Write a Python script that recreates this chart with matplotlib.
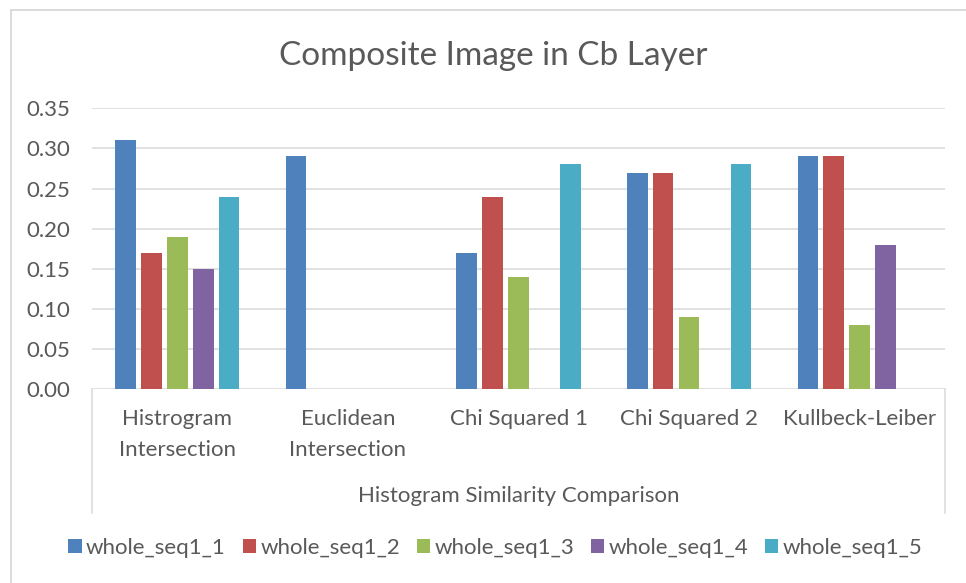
import matplotlib
matplotlib.use("Agg")
import matplotlib.pyplot as plt
import numpy as np
from matplotlib.lines import Line2D
from matplotlib.patches import Patch

plt.rcParams['font.family'] = ['Lato', 'DejaVu Sans']

categories = ["Histrogram\nIntersection", "Euclidean\nIntersection",
              "Chi Squared 1", "Chi Squared 2", "Kullbeck-Leiber"]
series_names = ["whole_seq1_1", "whole_seq1_2", "whole_seq1_3",
                "whole_seq1_4", "whole_seq1_5"]
whole_seq1_1 = [0.31, 0.29, 0.17, 0.27, 0.29]
whole_seq1_2 = [0.17, 0.00, 0.24, 0.27, 0.29]
whole_seq1_3 = [0.19, 0.00, 0.14, 0.09, 0.08]
whole_seq1_4 = [0.15, 0.00, 0.00, 0.00, 0.18]
whole_seq1_5 = [0.24, 0.00, 0.28, 0.28, 0.00]
series_values = [whole_seq1_1, whole_seq1_2, whole_seq1_3, whole_seq1_4, whole_seq1_5]
y_ticks = [0.00, 0.05, 0.10, 0.15, 0.20, 0.25, 0.30, 0.35]

colors = ["#4F81BD", "#C0504D", "#9BBB59", "#8064A2", "#4BACC6"]
text_color = "#595959"
line_color = "#D9D9D9"

W, H = 966, 583
fig = plt.figure(figsize=(W / 100, H / 100), dpi=100)
fig.patch.set_facecolor("white")

def fx(px):
    return px / W

def fy(py):
    return 1 - py / H

left, right, top, bottom = 92, 945, 108.3, 389.3
ax = fig.add_axes([fx(left), fy(bottom), fx(right) - fx(left), fy(top) - fy(bottom)])

x = np.arange(len(categories))
step = 0.152
width = 0.121
for j, (name, vals) in enumerate(zip(series_names, series_values)):
    ax.bar(x + (j - 2) * step, vals, width=width, color=colors[j], label=name,
           zorder=3, linewidth=0)

ax.set_xlim(-0.5, len(categories) - 0.5)
ax.set_ylim(0, 0.35)
ax.set_yticks(y_ticks)
ax.set_yticklabels([f"{v:.2f}" for v in y_ticks])
ax.set_xticks(x)
ax.set_xticklabels(categories, linespacing=1.7)
ax.tick_params(axis="both", length=0, colors=text_color, labelsize=16)
ax.tick_params(axis="y", pad=16)
ax.tick_params(axis="x", pad=14)
for s in ax.spines.values():
    s.set_visible(False)
ax.yaxis.grid(True, color=line_color, linewidth=1.1, zorder=0)
ax.set_axisbelow(True)

# category box below the plot area
for px in (left, right):
    fig.add_artist(Line2D([fx(px), fx(px)], [fy(bottom), fy(513)],
                          color=line_color, linewidth=1.1))

# outer chart border
fig.add_artist(Line2D([fx(11), fx(11)], [fy(10), 0], color=line_color, linewidth=1.3))
fig.add_artist(Line2D([fx(11), 1], [fy(10), fy(10)], color=line_color, linewidth=1.3))

fig.text(fx(493), fy(56), "Composite Image in Cb Layer", ha="center", va="center",
         fontsize=24, color=text_color)
fig.text(fx(518.5), fy(496), "Histogram Similarity Comparison", ha="center",
         va="center", fontsize=16, color=text_color)

handles = [Patch(facecolor=c, edgecolor="none") for c in colors]
fig.legend(handles, series_names, loc="center", bbox_to_anchor=(fx(495.5), fy(548)),
           ncol=5, frameon=False, fontsize=16, handlelength=0.6, handleheight=0.6,
           handletextpad=0.2, columnspacing=0.75, labelcolor=text_color)

fig.savefig("out.png", dpi=100)
